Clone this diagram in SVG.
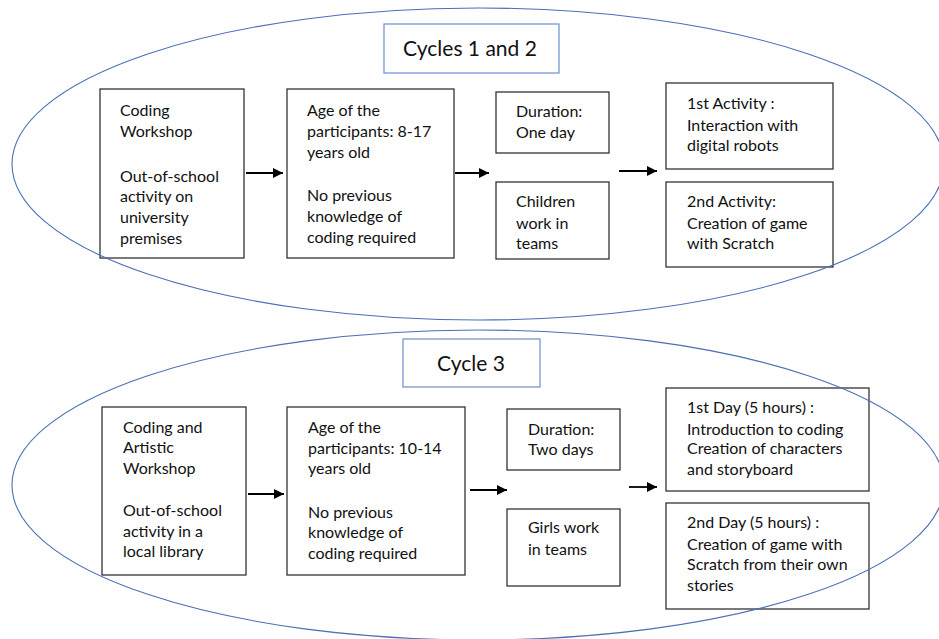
<svg xmlns="http://www.w3.org/2000/svg" width="939" height="639" viewBox="0 0 939 639">
  <defs>
    <marker id="arrow" viewBox="0 0 10 10" refX="10" refY="5" markerWidth="10" markerHeight="10" markerUnits="userSpaceOnUse" orient="auto">
      <path d="M0,0 L10,5 L0,10 z" fill="#000"/>
    </marker>
    <style>
      .box { fill: none; stroke: #333; stroke-width: 1.3; }
      .title-box { fill: #fff; stroke: #6d8fd0; stroke-width: 1.2; }
      .cycle { fill: none; stroke: #4a6fb5; stroke-width: 1.1; }
      .conn { stroke: #000; stroke-width: 1.8; fill: none; marker-end: url(#arrow); }
      text { font-family: Lato, "Open Sans", "Liberation Sans", sans-serif; font-size: 16px; fill: #111; }
      .title { font-size: 21px; text-anchor: middle; }
    </style>
  </defs>

  <rect width="939" height="639" fill="#fff"/>

  <!-- Cycles 1 and 2 -->
  <g id="title-cycles-1-2">
    <rect class="title-box" x="384" y="24" width="175" height="49"/>
    <text class="title" x="470" y="56">Cycles 1 and 2</text>
  </g>

  <g id="workshop-1">
    <rect class="box" x="100" y="89" width="144" height="169"/>
    <text x="120" y="116">Coding</text>
    <text x="120" y="137">Workshop</text>
    <text x="120" y="182">Out-of-school</text>
    <text x="120" y="202">activity on</text>
    <text x="120" y="223">university</text>
    <text x="120" y="244">premises</text>
  </g>

  <g id="participants-1">
    <rect class="box" x="287" y="89" width="167" height="169"/>
    <text x="307" y="116">Age of the</text>
    <text x="307" y="137">participants: 8-17</text>
    <text x="307" y="158">years old</text>
    <text x="307" y="201">No previous</text>
    <text x="307" y="222">knowledge of</text>
    <text x="307" y="243">coding required</text>
  </g>

  <g id="duration-1">
    <rect class="box" x="496" y="92" width="113" height="61"/>
    <text x="516" y="117">Duration:</text>
    <text x="516" y="138">One day</text>
  </g>

  <g id="teams-1">
    <rect class="box" x="496" y="182" width="113" height="77"/>
    <text x="516" y="207">Children</text>
    <text x="516" y="229">work in</text>
    <text x="516" y="249">teams</text>
  </g>

  <g id="activity-1">
    <rect class="box" x="666" y="83" width="167" height="86"/>
    <text x="687" y="109">1st Activity :</text>
    <text x="687" y="131">Interaction with</text>
    <text x="687" y="151">digital robots</text>
  </g>

  <g id="activity-2">
    <rect class="box" x="666" y="182" width="167" height="85"/>
    <text x="687" y="207">2nd Activity:</text>
    <text x="687" y="229">Creation of game</text>
    <text x="687" y="249">with Scratch</text>
  </g>

  <!-- Cycle 3 -->
  <g id="title-cycle-3">
    <rect class="title-box" x="403" y="339" width="137" height="48"/>
    <text class="title" x="471" y="371">Cycle 3</text>
  </g>

  <g id="workshop-3">
    <rect class="box" x="102" y="407" width="144" height="168"/>
    <text x="123" y="433">Coding and</text>
    <text x="123" y="453">Artistic</text>
    <text x="123" y="474">Workshop</text>
    <text x="123" y="516">Out-of-school</text>
    <text x="123" y="537">activity in a</text>
    <text x="123" y="557">local library</text>
  </g>

  <g id="participants-3">
    <rect class="box" x="287" y="407" width="178" height="168"/>
    <text x="308" y="433">Age of the</text>
    <text x="308" y="454">participants: 10-14</text>
    <text x="308" y="474">years old</text>
    <text x="308" y="518">No previous</text>
    <text x="308" y="538">knowledge of</text>
    <text x="308" y="559">coding required</text>
  </g>

  <g id="duration-3">
    <rect class="box" x="507" y="409" width="113" height="61"/>
    <text x="528" y="435">Duration:</text>
    <text x="528" y="455">Two days</text>
  </g>

  <g id="teams-3">
    <rect class="box" x="507" y="509" width="113" height="77"/>
    <text x="528" y="533">Girls work</text>
    <text x="528" y="555">in teams</text>
  </g>

  <g id="day-1">
    <rect class="box" x="666" y="388" width="203" height="103"/>
    <text x="687" y="413">1st Day (5 hours) :</text>
    <text x="687" y="435">Introduction to coding</text>
    <text x="687" y="454">Creation of characters</text>
    <text x="687" y="475">and storyboard</text>
  </g>

  <g id="day-2">
    <rect class="box" x="666" y="503" width="203" height="106"/>
    <text x="687" y="528">2nd Day (5 hours) :</text>
    <text x="687" y="550">Creation of game with</text>
    <text x="687" y="570">Scratch from their own</text>
    <text x="687" y="591">stories</text>
  </g>

  <!-- cycle outlines -->
  <g id="cycles">
    <ellipse class="cycle" cx="478" cy="164" rx="466" ry="156"/>
    <ellipse class="cycle" cx="478" cy="485" rx="466" ry="155"/>
  </g>

  <g id="connectors">
    <line class="conn" x1="246" y1="173" x2="283" y2="173"/>
    <line class="conn" x1="455" y1="173" x2="489" y2="173"/>
    <line class="conn" x1="619" y1="171" x2="657" y2="171"/>
    <line class="conn" x1="248" y1="494" x2="284" y2="494"/>
    <line class="conn" x1="470" y1="490" x2="507" y2="490"/>
    <line class="conn" x1="629" y1="487" x2="657" y2="487"/>
  </g>
</svg>
